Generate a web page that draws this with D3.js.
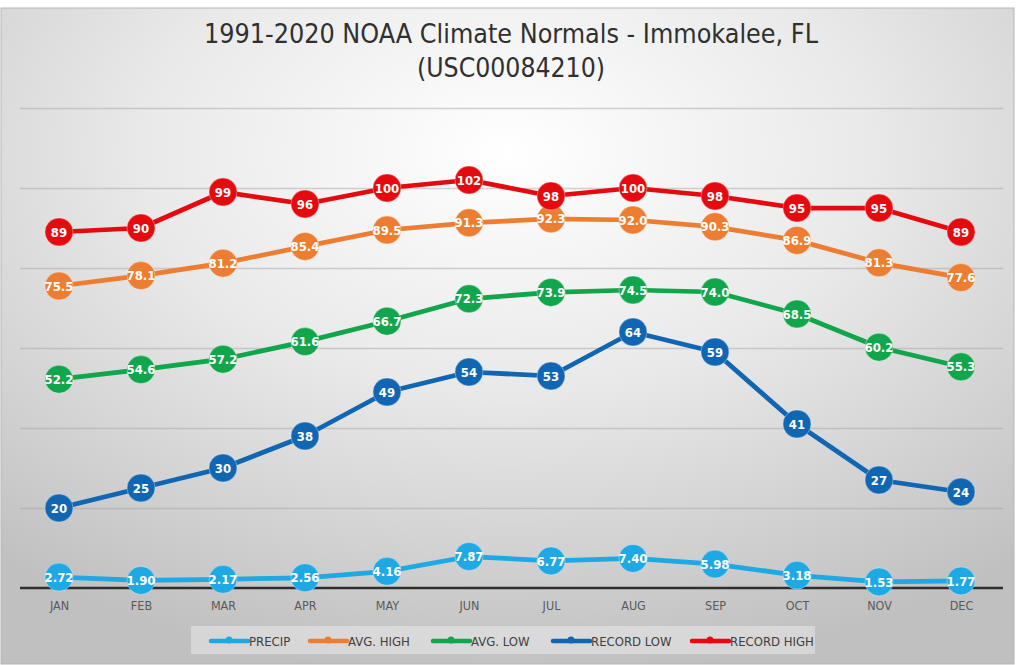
<!DOCTYPE html>
<html><head><meta charset="utf-8">
<script src="https://cdn.jsdelivr.net/npm/d3@7/dist/d3.min.js"></script>
<style>html,body{margin:0;padding:0;background:#fff;}svg{display:block;}</style>
</head><body>
<svg id="chart" width="1024" height="665"></svg>
<script>
const months = ["JAN","FEB","MAR","APR","MAY","JUN","JUL","AUG","SEP","OCT","NOV","DEC"];
const precip = [2.72,1.90,2.17,2.56,4.16,7.87,6.77,7.40,5.98,3.18,1.53,1.77];
const avgHigh = [75.5,78.1,81.2,85.4,89.5,91.3,92.3,92.0,90.3,86.9,81.3,77.6];
const avgLow = [52.2,54.6,57.2,61.6,66.7,72.3,73.9,74.5,74.0,68.5,60.2,55.3];
const recordLow = [20,25,30,38,49,54,53,64,59,41,27,24];
const recordHigh = [89,90,99,96,100,102,98,100,98,95,95,89];
const yTicks = [0,20,40,60,80,100,120];
const seriesNames = ["PRECIP","AVG. HIGH","AVG. LOW","RECORD LOW","RECORD HIGH"];
const seriesColors = ["#1ea8e4","#ec7d31","#12a64c","#1166b3","#e40a0f"];
const seriesFormats = [".2f",".1f",".1f","d","d"];

const series = [precip, avgHigh, avgLow, recordLow, recordHigh].map((v,i)=>({
  name: seriesNames[i], color: seriesColors[i], fmt: d3.format(seriesFormats[i]), values: v
}));

const W = 1024, H = 665;
const svg = d3.select("#chart");
const defs = svg.append("defs");
const rg = defs.append("radialGradient").attr("id","bg")
  .attr("cx","50%").attr("cy","22%").attr("r","80%").attr("fx","50%").attr("fy","22%");
rg.append("stop").attr("offset","0%").attr("stop-color","#ffffff");
rg.append("stop").attr("offset","45%").attr("stop-color","#e9e9e9");
rg.append("stop").attr("offset","100%").attr("stop-color","#c0c0c0");

svg.append("rect").attr("x",0).attr("y",0).attr("width",W).attr("height",H).attr("fill","#ffffff");
svg.append("rect").attr("x",1).attr("y",8).attr("width",1013).attr("height",656)
  .attr("fill","url(#bg)").attr("stroke","#b5b5b5").attr("stroke-width",1);

const x = d3.scalePoint().domain(months).range([59, 961]);
const y = d3.scaleLinear().domain([0,120]).range([588,108]);

// gridlines
const grid = svg.append("g").attr("class","grid")
  .attr("transform","translate(20,0)")
  .call(d3.axisLeft(y).tickValues(yTicks.filter(t=>t>0)).tickSize(-983).tickFormat(""));
grid.select(".domain").remove();
grid.selectAll(".tick line").attr("stroke","#a0a0a0").attr("stroke-opacity",0.45).attr("stroke-width",1.5);

// x axis
const xa = svg.append("g").attr("transform","translate(0,588)")
  .call(d3.axisBottom(x).tickSize(0).tickPadding(13));
xa.select(".domain").remove();
xa.append("line").attr("x1",20).attr("x2",1003).attr("y1",0).attr("y2",0)
  .attr("stroke","#2e2e2e").attr("stroke-width",2.5);
xa.selectAll(".tick text").attr("font-family","'DejaVu Sans Condensed','DejaVu Sans', sans-serif")
  .attr("font-size",12.5).attr("fill","#5a5a5a");

// series
const line = d3.line().x((d,i)=>x(months[i])).y(d=>y(d));
series.forEach(s=>{
  const g = svg.append("g");
  g.append("path").datum(s.values).attr("d",line).attr("fill","none")
    .attr("stroke",s.color).attr("stroke-width",4.75).attr("stroke-linejoin","round");
  g.selectAll("circle").data(s.values).join("circle")
    .attr("cx",(d,i)=>x(months[i])).attr("cy",d=>y(d)).attr("r",14)
    .attr("fill",s.color).attr("stroke","#ffffff").attr("stroke-opacity",0.35).attr("stroke-width",1);
  g.selectAll("text").data(s.values).join("text")
    .attr("x",(d,i)=>x(months[i])).attr("y",d=>y(d)).attr("dy","0.36em")
    .attr("text-anchor","middle").attr("font-family","'DejaVu Sans Condensed','DejaVu Sans',sans-serif")
    .attr("font-weight","bold").attr("font-size",13).attr("fill","#ffffff")
    .text(d=>s.fmt(d));
});

// title
const title = svg.append("g").attr("font-family","'Liberation Sans Narrow','DejaVu Sans Condensed',sans-serif")
  .attr("fill","#303030").attr("text-anchor","middle").attr("font-size",27);
title.append("text").attr("x",511).attr("y",43).attr("textLength",614).attr("lengthAdjust","spacingAndGlyphs")
  .text("1991-2020 NOAA Climate Normals - Immokalee, FL");
title.append("text").attr("x",511).attr("y",77).attr("textLength",188).attr("lengthAdjust","spacingAndGlyphs")
  .text("(USC00084210)");

// legend
const lg = svg.append("g");
lg.append("rect").attr("x",191).attr("y",626).attr("width",624).attr("height",28)
  .attr("fill","#ffffff").attr("fill-opacity",0.35);
const legX = [211, 310, 433, 553, 692];
series.forEach((s,i)=>{
  const gx = legX[i];
  lg.append("line").attr("x1",gx).attr("x2",gx+37).attr("y1",641).attr("y2",641)
    .attr("stroke",s.color).attr("stroke-width",4.5).attr("stroke-linecap","round");
  lg.append("circle").attr("cx",gx+18).attr("cy",640).attr("r",3.5).attr("fill",s.color);
  lg.append("text").attr("x",gx+38).attr("y",641).attr("dy","0.36em")
    .attr("font-family","'DejaVu Sans Condensed','DejaVu Sans',sans-serif").attr("font-size",13)
    .attr("fill","#404040").text(s.name);
});
</script>
</body></html>
